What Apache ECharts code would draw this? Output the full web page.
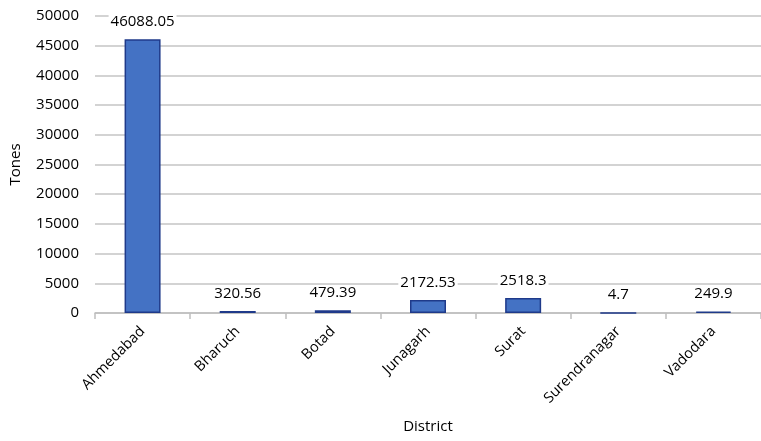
<!DOCTYPE html>
<html>
<head>
<meta charset="utf-8">
<script src="https://cdn.jsdelivr.net/npm/echarts@6/dist/echarts.min.js"></script>
<style>
  html, body { margin: 0; padding: 0; background: #fff; }
  #chart { width: 761px; height: 441px; }
</style>
</head>
<body>
<div id="chart"></div>
<script>
// District-wise quantity (tones)
const districts = ['Ahmedabad', 'Bharuch', 'Botad', 'Junagarh', 'Surat', 'Surendranagar', 'Vadodara'];
const tones = [46088.05, 320.56, 479.39, 2172.53, 2518.3, 4.7, 249.9];
const yTicks = { min: 0, max: 50000, interval: 5000 };

const fontFamily = '"Open Sans", "Noto Sans", sans-serif';
const chart = echarts.init(document.getElementById('chart'), null, { renderer: 'canvas' });

chart.setOption({
  animation: false,
  backgroundColor: '#ffffff',
  grid: { left: 94, right: -10, top: 16, bottom: 128, containLabel: false },
  xAxis: {
    type: 'category',
    data: districts,
    name: 'District',
    nameLocation: 'middle',
    nameGap: 106,
    nameTextStyle: { fontFamily, fontSize: 15, color: '#000' },
    axisLine: { lineStyle: { color: '#bfbfbf', width: 1.5 } },
    axisTick: { show: true, length: 6, lineStyle: { color: '#bfbfbf', width: 1.5 } },
    axisLabel: { rotate: 45, fontFamily, fontSize: 14.5, color: '#000', margin: 16 }
  },
  yAxis: {
    type: 'value',
    min: yTicks.min,
    max: yTicks.max,
    interval: yTicks.interval,
    name: 'Tones',
    nameLocation: 'middle',
    nameGap: 72,
    nameRotate: 90,
    nameTextStyle: { fontFamily, fontSize: 15, color: '#000' },
    axisLine: { show: false },
    axisTick: { show: false },
    axisLabel: { fontFamily, fontSize: 15, color: '#000', margin: 16, formatter: v => String(v) },
    splitLine: { lineStyle: { color: '#c4c4c4', width: 1.5 } }
  },
  series: [{
    type: 'bar',
    data: tones,
    barWidth: 36,
    itemStyle: { color: '#4472c4', borderColor: '#1f3a8a', borderWidth: 1.5 },
    label: {
      show: true,
      position: 'top',
      distance: 10,
      fontFamily,
      fontSize: 15,
      color: '#000',
      backgroundColor: '#ffffff',
      padding: [0, 2]
    }
  }]
});
</script>
</body>
</html>
